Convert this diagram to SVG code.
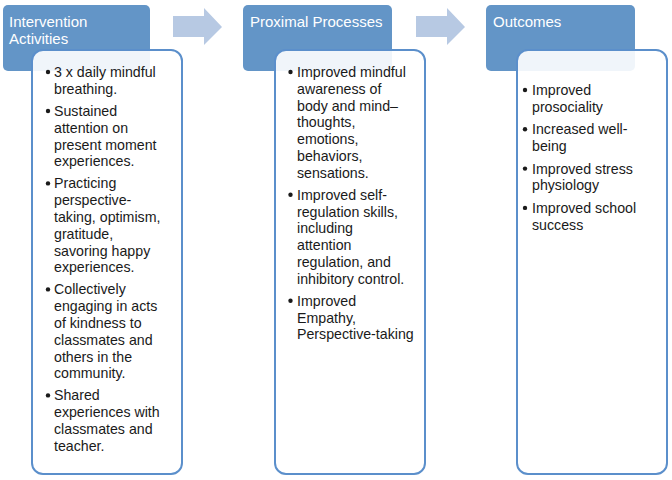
<svg xmlns="http://www.w3.org/2000/svg" width="672" height="480" viewBox="0 0 672 480">
<style>
.hdr{fill:#6395c7;}
.box{fill:#ffffff;fill-opacity:0.9;stroke:#5b8fcb;stroke-width:2;}
.arr{fill:#b7c9e3;}
.ht{font-family:"Liberation Sans",Arial,sans-serif;font-size:15px;fill:#ffffff;}
.bt{font-family:"Liberation Sans",Arial,sans-serif;font-size:14.2px;fill:#1a1a1a;}
.dot{fill:#1a1a1a;}
</style>
<rect width="672" height="480" fill="#ffffff"/>
<g id="connectors">
<polygon class="arr" points="173,16 204,16 204,8 222,27 204,45 204,37 173,37"/>
<polygon class="arr" points="416,16 447,16 447,8 465,27 447,45 447,37 416,37"/>
</g>
<g id="intervention">
<rect class="hdr" x="3" y="5" width="147" height="66" rx="5"/>
<text class="ht" x="9" y="27">Intervention</text>
<text class="ht" x="9" y="44">Activities</text>
<rect class="box" x="32" y="50" width="150" height="424" rx="11"/>
<g class="bt">
<circle class="dot" cx="48" cy="72" r="2.2"/>
<text class="bt" x="54" y="77">3 x daily mindful</text>
<text class="bt" x="54" y="93.8">breathing.</text>
<circle class="dot" cx="48" cy="111" r="2.2"/>
<text class="bt" x="54" y="116">Sustained</text>
<text class="bt" x="54" y="132.8">attention on</text>
<text class="bt" x="54" y="149.6">present moment</text>
<text class="bt" x="54" y="166.4">experiences.</text>
<circle class="dot" cx="48" cy="183.4" r="2.2"/>
<text class="bt" x="54" y="188.4">Practicing</text>
<text class="bt" x="54" y="205.2">perspective-</text>
<text class="bt" x="54" y="222">taking, optimism,</text>
<text class="bt" x="54" y="238.8">gratitude,</text>
<text class="bt" x="54" y="255.6">savoring happy</text>
<text class="bt" x="54" y="272.4">experiences.</text>
<circle class="dot" cx="48" cy="289.4" r="2.2"/>
<text class="bt" x="54" y="294.4">Collectively</text>
<text class="bt" x="54" y="311.2">engaging in acts</text>
<text class="bt" x="54" y="328">of kindness to</text>
<text class="bt" x="54" y="344.8">classmates and</text>
<text class="bt" x="54" y="361.6">others in the</text>
<text class="bt" x="54" y="378.4">community.</text>
<circle class="dot" cx="48" cy="395.4" r="2.2"/>
<text class="bt" x="54" y="400.4">Shared</text>
<text class="bt" x="54" y="417.2">experiences with</text>
<text class="bt" x="54" y="434">classmates and</text>
<text class="bt" x="54" y="450.8">teacher.</text>
</g>
</g>
<g id="proximal">
<rect class="hdr" x="243" y="5" width="149" height="66" rx="5"/>
<text class="ht" x="250" y="27">Proximal Processes</text>
<rect class="box" x="275" y="50" width="150" height="424" rx="11"/>
<circle class="dot" cx="290.5" cy="72" r="2.2"/>
<text class="bt" x="297" y="77">Improved mindful</text>
<text class="bt" x="297" y="93.8">awareness of</text>
<text class="bt" x="297" y="110.6">body and mind–</text>
<text class="bt" x="297" y="127.4">thoughts,</text>
<text class="bt" x="297" y="144.2">emotions,</text>
<text class="bt" x="297" y="161">behaviors,</text>
<text class="bt" x="297" y="177.8">sensations.</text>
<circle class="dot" cx="290.5" cy="194.8" r="2.2"/>
<text class="bt" x="297" y="199.8">Improved self-</text>
<text class="bt" x="297" y="216.6">regulation skills,</text>
<text class="bt" x="297" y="233.4">including</text>
<text class="bt" x="297" y="250.2">attention</text>
<text class="bt" x="297" y="267">regulation, and</text>
<text class="bt" x="297" y="283.8">inhibitory control.</text>
<circle class="dot" cx="290.5" cy="300.8" r="2.2"/>
<text class="bt" x="297" y="305.8">Improved</text>
<text class="bt" x="297" y="322.6">Empathy,</text>
<text class="bt" x="297" y="339.4">Perspective-taking</text>
</g>
<g id="outcomes">
<rect class="hdr" x="486" y="5" width="149" height="66" rx="5"/>
<text class="ht" x="493" y="27">Outcomes</text>
<rect class="box" x="517" y="50" width="150" height="424" rx="11"/>
<circle class="dot" cx="525" cy="90" r="2.2"/>
<text class="bt" x="532" y="95">Improved</text>
<text class="bt" x="532" y="111.8">prosociality</text>
<circle class="dot" cx="525" cy="129.3" r="2.2"/>
<text class="bt" x="532" y="134.3">Increased well-</text>
<text class="bt" x="532" y="151.1">being</text>
<circle class="dot" cx="525" cy="168.6" r="2.2"/>
<text class="bt" x="532" y="173.6">Improved stress</text>
<text class="bt" x="532" y="190.4">physiology</text>
<circle class="dot" cx="525" cy="207.9" r="2.2"/>
<text class="bt" x="532" y="212.9">Improved school</text>
<text class="bt" x="532" y="229.7">success</text>
</g>
</svg>
